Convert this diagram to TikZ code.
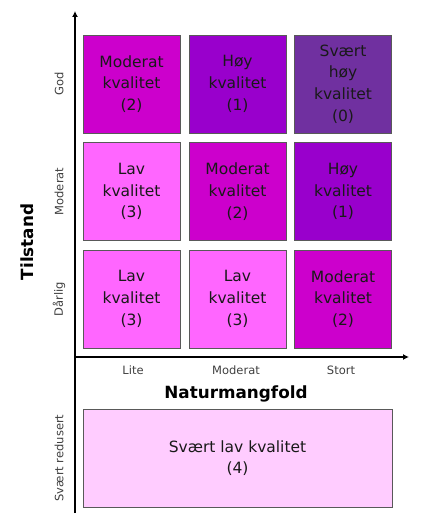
\documentclass[tikz,border=0pt]{standalone}
\usepackage{fontspec}
\setmainfont{DejaVu Sans}
\usetikzlibrary{arrows.meta}
\definecolor{lavq}{HTML}{FF66FF}
\definecolor{modq}{HTML}{CC00CC}
\definecolor{hoyq}{HTML}{9900CC}
\definecolor{sthoyq}{HTML}{7030A0}
\definecolor{stlavq}{HTML}{FFCCFF}
\begin{document}
\begin{tikzpicture}[x=1pt,y=-1pt,
  cell/.style={draw=black!65, line width=0.6pt, minimum width=97pt, minimum height=98pt,
    inner sep=0pt, align=center, text=black!90, font=\fontsize{15.5}{21.7}\selectfont},
  lvl/.style={rotate=90, font=\fontsize{11.5}{13}\selectfont, text=black!75},
  col/.style={font=\fontsize{11.5}{13}\selectfont, text=black!75},
  axname/.style={font=\fontsize{16.8}{19}\selectfont\bfseries}]
\useasboundingbox (0,0) rectangle (443,527);
% axes
\coordinate (o) at (75,357);
\coordinate (ytop) at (75,11);
\coordinate (ybot) at (75,513);
\coordinate (xend) at (409,357);
\draw[line width=2pt, -{Latex[length=6pt,width=6pt]}] (ybot) -- (ytop);
\draw[line width=2pt, -{Latex[length=6pt,width=6pt]}] (o) -- (xend);
% grid of classes
\node[cell, fill=modq] (c11) at (131.5,84) {Moderat\\kvalitet\\(2)};
\node[cell, fill=hoyq] (c12) at (237.5,84) {Høy\\kvalitet\\(1)};
\node[cell, fill=sthoyq] (c13) at (343,84) {Svært\\høy\\kvalitet\\(0)};
\node[cell, fill=lavq] (c21) at (131.5,191.5) {Lav\\kvalitet\\(3)};
\node[cell, fill=modq] (c22) at (237.5,191.5) {Moderat\\kvalitet\\(2)};
\node[cell, fill=hoyq] (c23) at (343,191.5) {Høy\\kvalitet\\(1)};
\node[cell, fill=lavq] (c31) at (131.5,299) {Lav\\kvalitet\\(3)};
\node[cell, fill=lavq] (c32) at (237.5,299) {Lav\\kvalitet\\(3)};
\node[cell, fill=modq] (c33) at (343,299) {Moderat\\kvalitet\\(2)};
\node[cell, fill=stlavq, minimum width=309pt] (c4) at (237.5,458) {Svært lav kvalitet\\(4)};
% labels
\node[lvl] (god) at (59,84) {God};
\node[lvl] (mod) at (59,191.5) {Moderat};
\node[lvl] (darl) at (59,299) {Dårlig};
\node[lvl] (sred) at (59,458) {Svært redusert};
\node[col] (lite) at (133,370) {Lite};
\node[col] (modx) at (236,370) {Moderat};
\node[col] (stort) at (341,370) {Stort};
\node[axname, rotate=90] (tilst) at (27,242) {Tilstand};
\node[axname] (natur) at (236,394) {Naturmangfold};
\end{tikzpicture}
\end{document}
